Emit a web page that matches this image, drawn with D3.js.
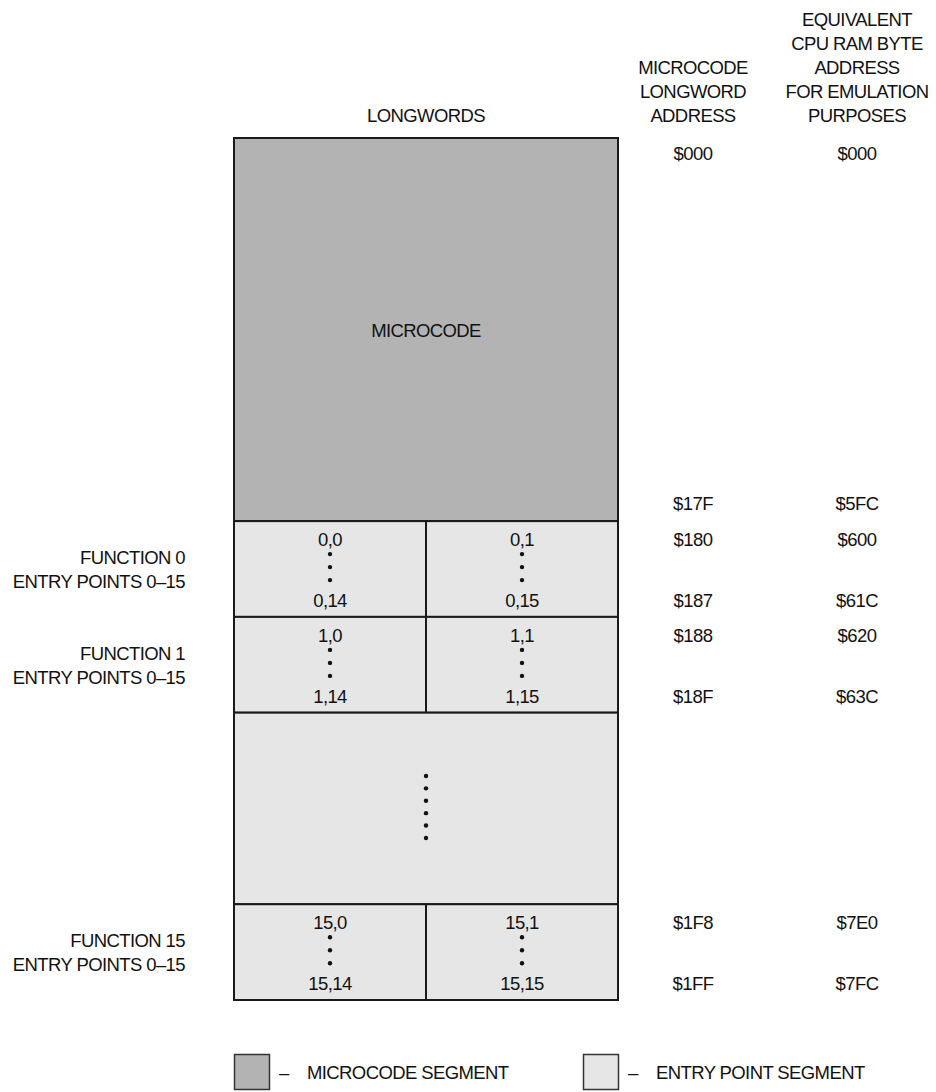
<!DOCTYPE html>
<html>
<head>
<meta charset="utf-8">
<script src="https://cdn.jsdelivr.net/npm/d3@7"></script>
<style>
body{margin:0;background:#fff}
text{font-family:"Liberation Sans",Arial,Helvetica,sans-serif;font-size:18.5px;letter-spacing:-0.6px;fill:#111}
</style>
</head>
<body>
<svg id="canvas" width="936" height="1092"></svg>
<script>
// segments from top to bottom and how many "rows" tall each is drawn
const segmentNames=["microcode","fn0","fn1","gap","fn15"]
const segmentSpans=[4,1,1,2,1]
const segmentKinds=["microcode","entry","entry","entry","entry"]
const functionNums=[0,1,15]
const functionSegment=["fn0","fn1","fn15"]
const longwordStart=["$180","$188","$1F8"]
const longwordEnd=["$187","$18F","$1FF"]
const byteStart=["$600","$620","$7E0"]
const byteEnd=["$61C","$63C","$7FC"]
const microcodeLongword=["$000","$17F"]
const microcodeByte=["$000","$5FC"]
const headerLongword=["MICROCODE","LONGWORD","ADDRESS"]
const headerByte=["EQUIVALENT","CPU RAM BYTE","ADDRESS","FOR EMULATION","PURPOSES"]
const legendItems=["MICROCODE SEGMENT","ENTRY POINT SEGMENT"]
const colors={microcode:"#b3b3b3",entry:"#e6e6e6"}

let canvas=d3.select("#canvas")

let starts=[]
let acc=0
segmentSpans.forEach((s)=>{starts.push(acc);acc+=s})

const y=d3.scaleLinear().domain([0,acc]).range([138,1000])
const x=d3.scaleBand().domain([0,1]).range([234,618])
const addrX=d3.scalePoint().domain(["long","byte"]).range([693,857])
const lineH=24

const segTop=(name)=>y(starts[segmentNames.indexOf(name)])
const segBot=(name)=>{
    const i=segmentNames.indexOf(name)
    return y(starts[i]+segmentSpans[i])
}

// headers
canvas.append("text").text("LONGWORDS")
    .attr("x",(x(0)+x(1)+x.bandwidth())/2).attr("y",122).attr("text-anchor","middle")
canvas.selectAll(".hl").data(headerLongword).enter().append("text")
    .text((d)=>d)
    .attr("x",addrX("long"))
    .attr("y",(d,i)=>122-(headerLongword.length-1-i)*lineH)
    .attr("text-anchor","middle")
canvas.selectAll(".hb").data(headerByte).enter().append("text")
    .text((d)=>d)
    .attr("x",addrX("byte"))
    .attr("y",(d,i)=>122-(headerByte.length-1-i)*lineH)
    .attr("text-anchor","middle")

// segment rectangles
canvas.selectAll(".seg").data(segmentNames).enter().append("rect")
    .attr("x",x(0))
    .attr("y",(d)=>segTop(d))
    .attr("width",x(1)+x.bandwidth()-x(0))
    .attr("height",(d)=>segBot(d)-segTop(d))
    .attr("fill",(d,i)=>colors[segmentKinds[i]])
    .attr("stroke","#1a1a1a")
    .attr("stroke-width",2)

canvas.append("text").text("MICROCODE")
    .attr("x",(x(0)+x(1)+x.bandwidth())/2)
    .attr("y",(segTop("microcode")+segBot("microcode"))/2+7)
    .attr("text-anchor","middle")

// function rows
functionNums.forEach((f,k)=>{
    const top=segTop(functionSegment[k])
    const bot=segBot(functionSegment[k])
    canvas.append("line")
        .attr("x1",x(1)).attr("x2",x(1))
        .attr("y1",top).attr("y2",bot)
        .attr("stroke","#1a1a1a").attr("stroke-width",2)
    x.domain().forEach((c)=>{
        const cx=x(c)+x.bandwidth()/2
        canvas.append("text").text(f+","+c)
            .attr("x",cx).attr("y",top+25).attr("text-anchor","middle")
        canvas.append("text").text(f+","+(14+c))
            .attr("x",cx).attr("y",bot-10).attr("text-anchor","middle")
        canvas.selectAll(null).data([33,46,59]).enter().append("circle")
            .attr("cx",cx).attr("cy",(d)=>top+d).attr("r",2.2).attr("fill","#111")
    })
    const mid=(top+bot)/2
    canvas.append("text").text("FUNCTION "+f)
        .attr("x",185).attr("y",mid-5).attr("text-anchor","end")
    canvas.append("text").text("ENTRY POINTS 0\u201315")
        .attr("x",185).attr("y",mid+19).attr("text-anchor","end")
    canvas.append("text").text(longwordStart[k])
        .attr("x",addrX("long")).attr("y",top+25).attr("text-anchor","middle")
    canvas.append("text").text(longwordEnd[k])
        .attr("x",addrX("long")).attr("y",bot-10).attr("text-anchor","middle")
    canvas.append("text").text(byteStart[k])
        .attr("x",addrX("byte")).attr("y",top+25).attr("text-anchor","middle")
    canvas.append("text").text(byteEnd[k])
        .attr("x",addrX("byte")).attr("y",bot-10).attr("text-anchor","middle")
})

// the skipped functions
const gapMid=(segTop("gap")+segBot("gap"))/2
canvas.selectAll(".gd").data([-2.5,-1.5,-0.5,0.5,1.5,2.5]).enter().append("circle")
    .attr("cx",x(1)).attr("cy",(d)=>gapMid-1.5+d*12.4).attr("r",2.2).attr("fill","#111")

// microcode addresses
canvas.append("text").text(microcodeLongword[0])
    .attr("x",addrX("long")).attr("y",segTop("microcode")+22).attr("text-anchor","middle")
canvas.append("text").text(microcodeLongword[1])
    .attr("x",addrX("long")).attr("y",segBot("microcode")-11).attr("text-anchor","middle")
canvas.append("text").text(microcodeByte[0])
    .attr("x",addrX("byte")).attr("y",segTop("microcode")+22).attr("text-anchor","middle")
canvas.append("text").text(microcodeByte[1])
    .attr("x",addrX("byte")).attr("y",segBot("microcode")-11).attr("text-anchor","middle")

// legend
const legX=d3.scalePoint().domain(legendItems).range([234,583])
const leg=canvas.selectAll(".leg").data(legendItems).enter().append("g")
    .attr("transform",(d)=>`translate(${legX(d)},1054)`)
leg.append("rect")
    .attr("x",0.5).attr("y",0.5).attr("width",35).attr("height",35)
    .attr("fill",(d,i)=>i==0?colors.microcode:colors.entry)
    .attr("stroke","#333").attr("stroke-width",1.5)
leg.append("text").text("\u2013").attr("x",45).attr("y",25)
leg.append("text").text((d)=>d).attr("x",73).attr("y",25)
</script>
</body>
</html>
